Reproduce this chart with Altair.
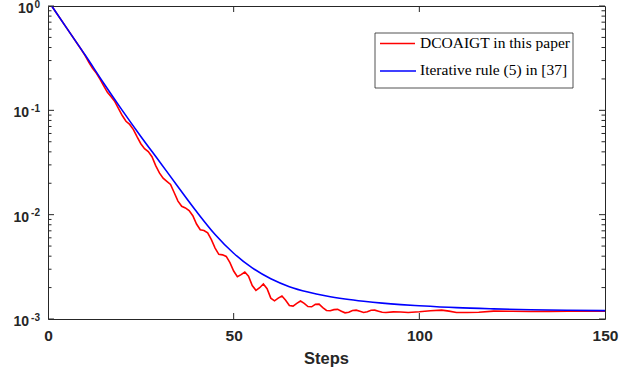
import altair as alt
import pandas as pd

# ---------------- data ----------------
series_names = ["DCOAIGT in this paper", "Iterative rule (5) in [37]"]

blue_steps = [1, 5, 10, 15, 20, 25, 30, 35, 40, 45, 50, 55, 60, 65, 70, 75, 80,
              85, 90, 95, 100, 110, 120, 130, 140, 150]
blue_vals = [1.0, 0.6166, 0.3388, 0.1820, 0.1000, 0.05623, 0.03236, 0.01854,
             0.01072, 0.006457, 0.004266, 0.003090, 0.002427, 0.002042, 0.001811,
             0.001660, 0.001556, 0.001479, 0.001419, 0.001374, 0.001340, 0.001284,
             0.001250, 0.001225, 0.001211, 0.001202]

red_steps = [1, 5, 9, 10, 11, 12, 13, 14, 15, 16, 17, 18, 19, 20, 21, 22, 23, 24,
             25, 26, 27, 28, 29, 30, 31, 32, 33, 34, 35, 36, 37, 38, 39, 40, 41,
             42, 43, 44, 45, 46, 47, 48, 49, 50, 51, 52, 53, 54, 55, 56, 57, 58,
             59, 60, 61, 62, 63, 64, 65, 66, 67, 68, 69, 70, 71, 72, 73, 74, 75,
             76, 77, 78, 79, 80, 81, 82, 83, 84, 85, 86, 87, 88, 89, 90, 91, 93,
             95, 97, 100, 103, 106, 108, 110, 113, 116, 120, 125, 130, 135, 140,
             145, 150]
red_vals = [1.0, 0.6166, 0.3802, 0.3350, 0.2891, 0.2523, 0.2280, 0.1991, 0.1718,
            0.1489, 0.1352, 0.1213, 0.1040, 0.08913, 0.07852, 0.07328, 0.06531,
            0.05559, 0.04786, 0.04285, 0.04018, 0.03597, 0.02951, 0.02512, 0.02239,
            0.02089, 0.01950, 0.01622, 0.01349, 0.01202, 0.01161, 0.01096,
            0.009772, 0.008128, 0.007161, 0.007047, 0.006683, 0.005754, 0.004786,
            0.004169, 0.004121, 0.003981, 0.003467, 0.002884, 0.002541, 0.002661,
            0.002818, 0.002570, 0.002089, 0.001884, 0.001995, 0.002163, 0.001950,
            0.001585, 0.001493, 0.001585, 0.001660, 0.001514, 0.001349, 0.001330,
            0.001413, 0.001486, 0.001413, 0.001318, 0.001309, 0.001380, 0.001387,
            0.001288, 0.001208, 0.001199, 0.001230, 0.001236, 0.001189, 0.001146,
            0.001161, 0.001208, 0.001216, 0.001189, 0.001156, 0.001175, 0.001211,
            0.001216, 0.001189, 0.001161, 0.001156, 0.001169, 0.001167, 0.001156,
            0.001172, 0.001199, 0.001216, 0.001189, 0.001156, 0.001153, 0.001159,
            0.001189, 0.001186, 0.001180, 0.001183, 0.001186, 0.001189, 0.001191]

x_tick_labels = [0, 50, 100, 150]
x_inner_ticks = [50, 100]
y_major = [1.0, 0.1, 0.01, 0.001]
y_exponents = ["0", "-1", "-2", "-3"]
y_minor = [0.002, 0.003, 0.004, 0.005, 0.006, 0.007, 0.008, 0.009,
           0.02, 0.03, 0.04, 0.05, 0.06, 0.07, 0.08, 0.09,
           0.2, 0.3, 0.4, 0.5, 0.6, 0.7, 0.8, 0.9]
x_title = "Steps"

# ---------------- styling ----------------
W, H = 557, 313
AX = "#262626"
FONT = "Liberation Sans"
SERIF = "Liberation Serif"

xscale = alt.Scale(domain=[0, 150], nice=False, zero=False)
yscale = alt.Scale(type="log", domain=[0.001, 1], nice=False)
xaxis = alt.Axis(values=x_tick_labels, ticks=False, tickSize=0, domain=False,
                 grid=False, labelFont=FONT, labelFontWeight="bold",
                 labelFontSize=15.5, labelColor=AX, labelPadding=21,
                 labelBaseline="alphabetic", labelFlush=False, title=None)


def X():
    return alt.X("step:Q", scale=xscale, axis=xaxis)


def Y():
    return alt.Y("val:Q", scale=yscale, axis=None)


red_df = pd.DataFrame({"step": red_steps, "val": red_vals})
blue_df = pd.DataFrame({"step": blue_steps, "val": blue_vals})
one = pd.DataFrame({"k": [0]})

red_line = alt.Chart(red_df).mark_line(color="#ff0000", strokeWidth=1.6, clip=True).encode(x=X(), y=Y())
blue_line = alt.Chart(blue_df).mark_line(color="#0000ff", strokeWidth=1.6, clip=True,
                                         interpolate="monotone").encode(x=X(), y=Y())

# inward ticks (MATLAB style)
ymaj_df = pd.DataFrame({"val": y_major})
ymin_df = pd.DataFrame({"val": y_minor})
xt_df = pd.DataFrame({"step": x_inner_ticks})

tick_layers = [
    alt.Chart(ymaj_df).mark_rule(color=AX, strokeWidth=1).encode(y=Y(), x=alt.value(0), x2=alt.value(6)),
    alt.Chart(ymaj_df).mark_rule(color=AX, strokeWidth=1).encode(y=Y(), x=alt.value(W), x2=alt.value(W - 6)),
    alt.Chart(ymin_df).mark_rule(color=AX, strokeWidth=1).encode(y=Y(), x=alt.value(0), x2=alt.value(3.5)),
    alt.Chart(ymin_df).mark_rule(color=AX, strokeWidth=1).encode(y=Y(), x=alt.value(W), x2=alt.value(W - 3.5)),
    alt.Chart(xt_df).mark_rule(color=AX, strokeWidth=1).encode(x=X(), y=alt.value(H), y2=alt.value(H - 6)),
    alt.Chart(xt_df).mark_rule(color=AX, strokeWidth=1).encode(x=X(), y=alt.value(0), y2=alt.value(6)),
]

# y labels 10^k
ylab_df = pd.DataFrame({"val": y_major, "exp": y_exponents})
base_a = alt.Chart(ylab_df).transform_filter("datum.exp != '0'").mark_text(
    align="right", baseline="alphabetic", font=FONT, fontWeight="bold", fontSize=14,
    color=AX, dy=7).encode(y=Y(), x=alt.value(-19), text=alt.value("10"))
base_b = alt.Chart(ylab_df).transform_filter("datum.exp == '0'").mark_text(
    align="right", baseline="alphabetic", font=FONT, fontWeight="bold", fontSize=14,
    color=AX, dy=7).encode(y=Y(), x=alt.value(-14.5), text=alt.value("10"))
exps = alt.Chart(ylab_df).mark_text(
    align="right", baseline="alphabetic", font=FONT, fontWeight="bold", fontSize=10,
    color=AX, dy=1.5).encode(y=Y(), x=alt.value(-8), text="exp:N")

title = alt.Chart(one).mark_text(align="center", baseline="alphabetic", font=FONT,
                                 fontWeight="bold", fontSize=16.5, color=AX).encode(
    x=alt.value(W / 2), y=alt.value(357.5), text=alt.value(x_title))

# legend
leg_box = alt.Chart(one).mark_rect(fill="white", stroke=AX, strokeWidth=0.8).encode(
    x=alt.value(327), x2=alt.value(525), y=alt.value(27), y2=alt.value(82))
leg_red = alt.Chart(one).mark_rule(color="#ff0000", strokeWidth=1.6).encode(
    x=alt.value(332), x2=alt.value(367), y=alt.value(37.5))
leg_blue = alt.Chart(one).mark_rule(color="#0000ff", strokeWidth=1.6).encode(
    x=alt.value(332), x2=alt.value(368), y=alt.value(65))
leg_t1 = alt.Chart(one).mark_text(align="left", baseline="alphabetic", font=SERIF,
                                  fontSize=15.5, color="black").encode(
    x=alt.value(372), y=alt.value(42), text=alt.value(series_names[0]))
leg_t2 = alt.Chart(one).mark_text(align="left", baseline="alphabetic", font=SERIF,
                                  fontSize=15.5, color="black").encode(
    x=alt.value(372), y=alt.value(68.5), text=alt.value(series_names[1]))

chart = alt.layer(
    red_line, blue_line, *tick_layers, base_a, base_b, exps, title,
    leg_box, leg_red, leg_blue, leg_t1, leg_t2
).properties(
    width=W, height=H,
    padding={"left": 48, "top": 6, "right": 33, "bottom": 54},
    autosize=alt.AutoSizeParams(type="none"),
    background="white",
).configure_view(stroke=AX, strokeWidth=1)

chart.save("out.html", embed_options={"renderer": "svg", "actions": False})
